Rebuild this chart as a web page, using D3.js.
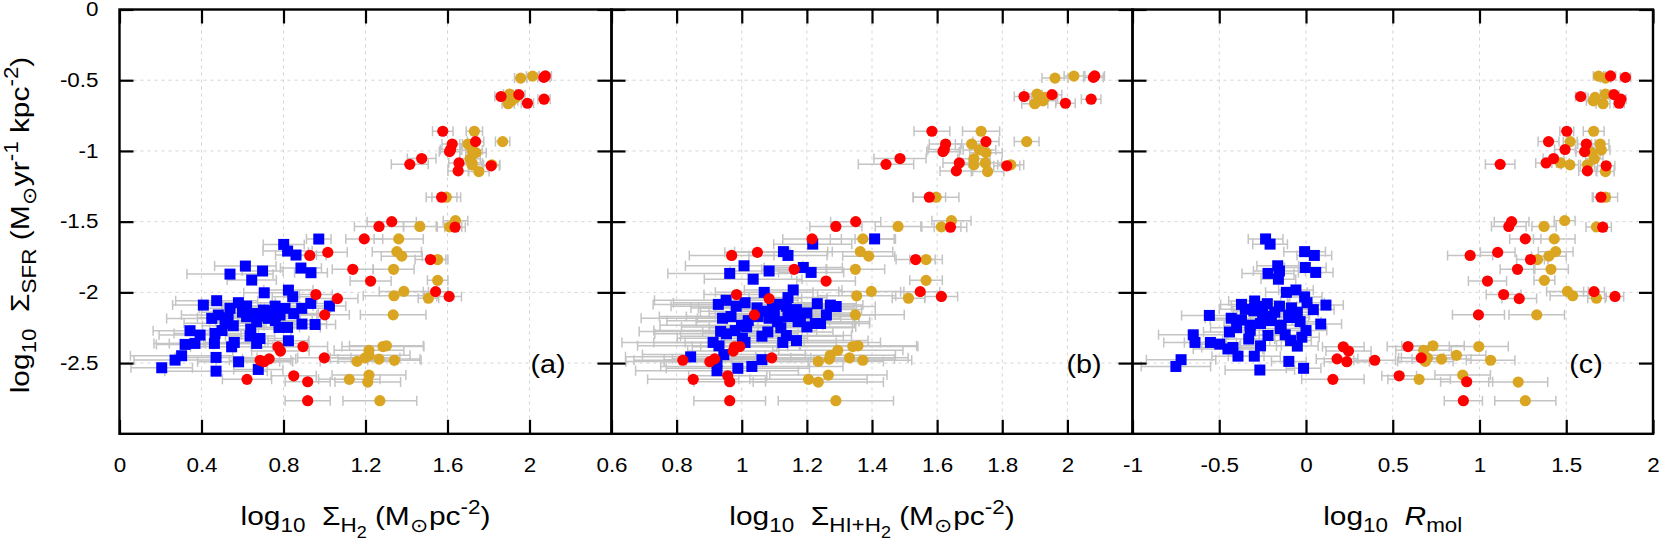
<!DOCTYPE html>
<html>
<head>
<meta charset="utf-8">
<script src="https://cdn.jsdelivr.net/npm/d3@7"></script>
<style>
body {margin:0; background:#fff;}
svg text {font-family:"Liberation Sans", Arial, sans-serif; fill:#000;}
</style>
</head>
<body>
<div id="chart"></div>
<script>

//tick values
var yTicks  = [-2.5, -2, -1.5, -1, -0.5, 0]
var xTicksA = [0, 0.4, 0.8, 1.2, 1.6, 2]
var xTicksB = [0.6, 0.8, 1, 1.2, 1.4, 1.6, 1.8, 2]
var xTicksC = [-1, -0.5, 0, 0.5, 1, 1.5, 2]

//red circles, same galaxies in all three panels
var redY = [-0.47,-0.48,-0.615,-0.602,-0.663,-0.634,-0.861,-0.951,
            -1.005,-0.934,-1.054,-1.095,-1.085,-1.141,-1.105,-1.327,
            -1.5,-1.534,-1.539,-1.622,-1.739,-1.717,-1.768,-1.837,
            -1.92,-1.995,-2.029,-2.015,-2.044,-2.159,-2.385,-2.415,
            -2.383,-2.463,-2.48,-2.49,-2.47,-2.615,-2.59,-2.632,
            -2.766,-0.99]
var redXa = [2.077,2.07,1.861,1.948,1.99,2.071,1.577,1.623,
             1.61,1.737,1.474,1.416,1.656,1.652,1.813,1.571,
             1.328,1.266,1.637,1.194,0.928,1.016,1.517,1.138,
             1.225,1.542,1.608,0.958,1.063,1.001,0.773,0.785,
             0.895,0.999,0.686,0.705,0.73,0.622,0.85,0.918,
             0.918,1.615]
var redEa = [0.03,0.03,0.03,0.03,0.03,0.03,0.05,0.05,
             0.05,0.04,0.07,0.09,0.05,0.05,0.04,0.075,
             0.12,0.12,0.05,0.09,0.08,0.095,0.075,0.1,
             0.1,0.06,0.06,0.08,0.1,0.12,0.13,0.14,
             0.12,0.13,0.15,0.14,0.13,0.12,0.11,0.11,
             0.11,0.05]
var redXb = [2.084,2.08,1.867,1.953,1.994,2.073,1.584,1.626,
             1.618,1.75,1.486,1.443,1.668,1.659,1.814,1.576,
             1.35,1.289,1.641,1.216,0.969,1.048,1.534,1.161,
             1.259,1.548,1.613,0.984,1.084,1.039,0.978,0.974,
             0.994,1.092,0.819,0.902,0.917,0.851,0.957,0.963,
             0.963,1.622]
var redEb = [0.03,0.03,0.03,0.03,0.03,0.03,0.055,0.05,
             0.05,0.04,0.08,0.085,0.05,0.05,0.04,0.05,
             0.077,0.08,0.05,0.09,0.13,0.1,0.06,0.1,
             0.09,0.06,0.05,0.1,0.1,0.12,0.13,0.14,
             0.12,0.12,0.15,0.14,0.13,0.14,0.12,0.11,
             0.11,0.05]
var redXc = [1.755,1.841,1.583,1.775,1.805,1.815,1.503,1.616,
             1.606,1.398,1.427,1.119,1.384,1.622,1.73,1.7,
             1.185,1.169,1.71,1.264,0.946,1.105,1.294,1.219,
             1.046,1.66,1.781,1.139,1.229,0.994,0.215,0.245,
             0.588,0.664,0.396,0.235,0.179,0.155,0.537,0.926,
             0.907,1.493]
var redEc = [0.03,0.03,0.03,0.03,0.03,0.03,0.04,0.05,
             0.05,0.06,0.06,0.085,0.06,0.05,0.05,0.05,
             0.1,0.1,0.05,0.09,0.13,0.1,0.08,0.1,
             0.11,0.06,0.05,0.1,0.1,0.15,0.12,0.13,
             0.12,0.13,0.12,0.13,0.12,0.18,0.1,0.15,
             0.11,0.06]

//gold circles
var goldY = [-0.485,-0.471,-0.598,-0.646,-0.666,-0.622,-0.861,-0.934,
             -0.951,-1.012,-0.993,-1.056,-1.085,-1.098,-1.146,-1.098,
             -1.327,-1.493,-1.537,-1.534,-1.622,-1.712,-1.744,-1.768,
             -1.837,-1.915,-1.993,-2.024,-2.041,-2.159,-2.383,-2.378,
             -2.41,-2.445,-2.488,-2.472,-2.48,-2.463,-2.615,-2.585,
             -2.634,-2.766]
var goldXa = [1.957,2.015,1.903,1.913,1.896,1.932,1.731,1.869,
              1.70,1.739,1.72,1.71,1.72,1.72,1.753,1.816,
              1.594,1.639,1.61,1.465,1.362,1.353,1.377,1.552,
              1.337,1.552,1.387,1.339,1.507,1.335,1.285,1.302,
              1.217,1.217,1.159,1.266,1.341,1.198,1.121,1.217,
              1.211,1.27]
var goldEa = [0.03,0.03,0.03,0.03,0.03,0.03,0.04,0.035,
              0.04,0.05,0.05,0.05,0.05,0.05,0.05,0.04,
              0.07,0.06,0.06,0.08,0.12,0.12,0.1,0.05,
              0.1,0.05,0.12,0.15,0.05,0.16,0.2,0.18,
              0.17,0.2,0.18,0.2,0.13,0.17,0.15,0.18,
              0.16,0.18]
var goldXb = [1.962,2.02,1.907,1.925,1.9,1.93,1.735,1.875,
              1.706,1.75,1.73,1.713,1.748,1.713,1.755,1.826,
              1.597,1.644,1.613,1.48,1.372,1.364,1.39,1.566,
              1.349,1.566,1.398,1.353,1.512,1.349,1.341,1.357,
              1.295,1.272,1.235,1.269,1.372,1.331,1.205,1.266,
              1.235,1.289]
var goldEb = [0.04,0.03,0.04,0.04,0.04,0.04,0.057,0.038,
              0.05,0.05,0.05,0.05,0.05,0.05,0.05,0.04,
              0.07,0.06,0.06,0.07,0.1,0.1,0.08,0.05,
              0.09,0.05,0.1,0.12,0.05,0.15,0.2,0.18,
              0.2,0.2,0.2,0.2,0.15,0.18,0.18,0.18,
              0.2,0.177]
var goldXc = [1.726,1.686,1.726,1.656,1.712,1.666,1.658,1.523,
              1.696,1.646,1.702,1.662,1.467,1.521,1.726,1.622,
              1.726,1.491,1.674,1.372,1.431,1.439,1.4,1.334,
              1.412,1.374,1.507,1.537,1.674,1.33,0.996,0.732,
              0.678,0.867,0.688,0.781,1.064,0.70,0.652,0.903,
              1.223,1.264]
var goldEc = [0.03,0.03,0.03,0.04,0.04,0.04,0.06,0.04,
              0.05,0.05,0.05,0.05,0.05,0.05,0.05,0.04,
              0.07,0.06,0.06,0.07,0.12,0.1,0.1,0.06,
              0.1,0.06,0.12,0.13,0.05,0.16,0.17,0.18,
              0.16,0.17,0.16,0.17,0.14,0.15,0.18,0.16,
              0.17,0.176]

//blue squares, read panel by panel (too crowded to match up)
var blueXa = [0.972,0.801,0.820,0.861,0.614,0.539,0.645,0.698,
              0.885,0.934,0.706,0.824,0.845,0.409,0.474,0.539,
              0.580,0.620,0.653,0.702,0.759,0.807,0.889,0.933,
              1.024,0.450,0.482,0.515,0.555,0.620,0.669,0.726,
              0.783,0.778,0.820,0.890,0.954,0.344,0.393,0.368,
              0.320,0.466,0.463,0.560,0.547,0.637,0.685,0.669,
              0.824,0.303,0.271,0.206,0.471,0.471,0.581,0.677,
              0.74,0.70,0.60,0.53,0.85,0.76,0.64,0.50]
var blueYa = [-1.623,-1.661,-1.708,-1.736,-1.814,-1.871,-1.913,-1.849,
              -1.828,-1.861,-2.003,-1.984,-2.031,-2.090,-2.059,-2.113,
              -2.073,-2.097,-2.149,-2.125,-2.097,-2.113,-2.113,-2.078,
              -2.097,-2.184,-2.160,-2.219,-2.236,-2.172,-2.208,-2.184,
              -2.160,-2.248,-2.248,-2.224,-2.227,-2.271,-2.302,-2.361,
              -2.368,-2.290,-2.361,-2.354,-2.385,-2.309,-2.326,-2.361,
              -2.342,-2.448,-2.479,-2.533,-2.460,-2.557,-2.491,-2.545,
              -2.13,-2.17,-2.14,-2.18,-2.15,-2.20,-2.26,-2.27]
var blueEa = [0.06,0.10,0.12,0.10,0.15,0.21,0.12,0.10,
              0.10,0.08,0.10,0.12,0.10,0.15,0.20,0.15,
              0.18,0.12,0.15,0.20,0.12,0.10,0.14,0.10,
              0.08,0.22,0.18,0.20,0.15,0.12,0.20,0.15,
              0.18,0.10,0.16,0.12,0.10,0.18,0.20,0.20,
              0.14,0.20,0.22,0.15,0.20,0.12,0.15,0.25,
              0.10,0.25,0.20,0.15,0.20,0.25,0.20,0.12,
              0.15,0.18,0.20,0.15,0.12,0.18,0.20,0.16]

var blueXb = [1.408,1.218,1.128,1.142,1.007,0.963,1.035,1.084,
              1.189,1.213,1.069,1.158,1.142,0.928,0.952,0.983,
              1.010,1.047,1.073,1.094,1.115,1.137,1.168,1.200,
              1.232,1.272,0.941,0.967,0.999,1.015,1.084,1.110,
              1.142,1.173,1.200,1.226,1.242,0.935,0.953,0.912,
              0.930,1.002,1.010,1.062,1.126,1.137,1.168,0.843,
              0.924,0.945,0.924,0.988,1.031,1.062,1.10,1.05,
              1.16,1.02,1.12,0.98,1.08,1.18,1.26,1.29]
var blueYb = [-1.622,-1.659,-1.712,-1.739,-1.812,-1.866,-1.907,-1.849,
              -1.824,-1.859,-2.000,-1.983,-2.037,-2.085,-2.056,-2.098,
              -2.073,-2.110,-2.134,-2.110,-2.085,-2.098,-2.122,-2.146,
              -2.080,-2.090,-2.183,-2.171,-2.232,-2.244,-2.183,-2.207,
              -2.171,-2.207,-2.244,-2.220,-2.220,-2.276,-2.293,-2.354,
              -2.378,-2.324,-2.354,-2.310,-2.354,-2.305,-2.341,-2.456,
              -2.488,-2.440,-2.554,-2.537,-2.524,-2.476,-2.15,-2.17,
              -2.16,-2.20,-2.25,-2.27,-2.28,-2.19,-2.16,-2.10]
var blueEb = [0.06,0.12,0.15,0.12,0.18,0.19,0.15,0.12,
              0.12,0.10,0.15,0.15,0.12,0.20,0.22,0.20,
              0.22,0.18,0.20,0.25,0.15,0.15,0.20,0.15,
              0.12,0.10,0.25,0.22,0.25,0.20,0.22,0.25,
              0.20,0.22,0.15,0.12,0.15,0.25,0.22,0.28,
              0.25,0.20,0.28,0.25,0.30,0.20,0.22,0.20,
              0.28,0.25,0.25,0.22,0.28,0.30,0.20,0.22,
              0.18,0.25,0.22,0.25,0.20,0.18,0.15,0.12]

var blueXc = [-0.233,-0.207,-0.008,0.048,-0.163,-0.219,-0.159,-0.004,
              0.056,-0.153,-0.113,-0.058,-0.008,-0.557,-0.372,-0.296,
              -0.223,-0.153,-0.084,0.006,0.042,0.115,-0.431,-0.372,
              -0.322,-0.262,-0.203,-0.143,-0.084,-0.034,0.085,-0.650,
              -0.640,-0.551,-0.497,-0.441,-0.421,-0.392,-0.298,-0.262,
              -0.219,-0.322,-0.149,-0.089,-0.024,-0.720,-0.750,-0.099,
              -0.014,-0.266,-0.30,-0.25,-0.18,-0.10,-0.35,-0.05,
              -0.40,-0.20,-0.12,0.00,-0.33,-0.45,-0.05,-0.28]
var blueYc = [-1.622,-1.659,-1.712,-1.739,-1.812,-1.866,-1.907,-1.824,
              -1.859,-1.849,-2.000,-1.983,-2.032,-2.163,-2.085,-2.061,
              -2.080,-2.098,-2.110,-2.073,-2.122,-2.090,-2.183,-2.195,
              -2.232,-2.220,-2.171,-2.232,-2.178,-2.207,-2.224,-2.300,
              -2.354,-2.354,-2.366,-2.280,-2.390,-2.451,-2.451,-2.378,
              -2.305,-2.268,-2.256,-2.341,-2.317,-2.476,-2.524,-2.488,
              -2.537,-2.549,-2.13,-2.15,-2.14,-2.16,-2.12,-2.14,
              -2.25,-2.20,-2.30,-2.27,-2.33,-2.40,-2.38,-2.10]
var blueEc = [0.10,0.10,0.12,0.10,0.12,0.15,0.10,0.12,
              0.10,0.15,0.12,0.10,0.10,0.16,0.12,0.15,
              0.12,0.10,0.12,0.10,0.12,0.10,0.15,0.18,
              0.15,0.12,0.12,0.15,0.10,0.12,0.12,0.20,
              0.18,0.15,0.12,0.15,0.18,0.15,0.15,0.12,
              0.12,0.15,0.12,0.12,0.10,0.20,0.20,0.10,
              0.10,0.20,0.12,0.12,0.15,0.12,0.15,0.12,
              0.15,0.12,0.15,0.12,0.15,0.20,0.12,0.15]

//axis titles as [text, level, italic]  level: 0 normal, -1 sub, -2 subsub, 1 sup
var titleA = [["log",0],["10",-1],["\u00a0\u00a0\u03a3",0],["H",-1],["2",-2],["\u00a0(M",0],["\u2299",-1],["pc",0],["-2",1],[")",0]]
var titleB = [["log",0],["10",-1],["\u00a0\u00a0\u03a3",0],["HI+H",-1],["2",-2],["\u00a0(M",0],["\u2299",-1],["pc",0],["-2",1],[")",0]]
var titleC = [["log",0],["10",-1],["\u00a0\u00a0",0],["R",0,true],["mol",-1]]
var titleY = [["log",0],["10",-1],["\u00a0\u00a0\u03a3",0],["SFR",-1],["\u00a0(M",0],["\u2299",-1],["yr",0],["-1",1],["\u00a0kpc",0],["-2",1],[")",0]]

//dimensions
var screen = {width: 1661, height: 543}
var frameTop = 9.5, frameBottom = 433.8
var tickLen = 14
var stretch = 1.15   //the original lettering runs wider than Liberation Sans

var yScale = d3.scaleLinear()
                .domain([-3, 0])
                .range([frameBottom, frameTop])

var panels = [
    {left: 119.5, right: 611.5, dom: [0, 2.4], ticks: xTicksA, tag: "(a)", tagX: 548, title: titleA,
     gold: [goldXa, goldY, goldEa], blue: [blueXa, blueYa, blueEa], red: [redXa, redY, redEa]},
    {left: 611.5, right: 1132.5, dom: [0.6, 2.2], ticks: xTicksB, tag: "(b)", tagX: 1084, title: titleB,
     gold: [goldXb, goldY, goldEb], blue: [blueXb, blueYb, blueEb], red: [redXb, redY, redEb]},
    {left: 1132.5, right: 1653, dom: [-1, 2], ticks: xTicksC, tag: "(c)", tagX: 1586, title: titleC,
     gold: [goldXc, goldY, goldEc], blue: [blueXc, blueYc, blueEc], red: [redXc, redY, redEc]}
]

var svg = d3.select("#chart")
    .append("svg")
    .attr("width", screen.width)
    .attr("height", screen.height)

svg.append("rect")
    .attr("width", screen.width)
    .attr("height", screen.height)
    .attr("fill", "#fff")

//writes gnuplot style enhanced text with subs and sups
var richText = function(textSel, parts, size)
{
    var cur = 0
    parts.forEach(function(p)
    {
        var lvl = p[1]
        var fs = lvl == 0 ? size : (lvl == -2 ? size * 0.6 : size * 0.75)
        var off = lvl == 0 ? 0 : (lvl == -1 ? size * 0.28 : (lvl == -2 ? size * 0.5 : -size * 0.42))
        var t = textSel.append("tspan")
            .attr("dy", off - cur)
            .style("font-size", fs + "px")
            .text(p[0])
        if (p[2]) { t.style("font-style", "italic") }
        cur = off
    })
}

//turns the three arrays into point objects
var zipPoints = function(arr)
{
    return arr[0].map(function(x, i)
    {
        return {x: x, y: arr[1][i], e: arr[2][i]}
    })
}

var drawPanel = function(p, idx)
{
    var xScale = d3.scaleLinear()
                    .domain(p.dom)
                    .range([p.left, p.right])

    var g = svg.append("g")

    g.append("clipPath")
        .attr("id", "clip" + idx)
        .append("rect")
        .attr("x", p.left)
        .attr("y", frameTop)
        .attr("width", p.right - p.left)
        .attr("height", frameBottom - frameTop)

    //dashed grid
    g.selectAll(".gx")
        .data(p.ticks)
        .enter()
        .append("line")
        .attr("x1", function(d) { return xScale(d) })
        .attr("x2", function(d) { return xScale(d) })
        .attr("y1", frameTop)
        .attr("y2", frameBottom)
        .attr("stroke", "#d4d4d4")
        .attr("stroke-width", 1)
        .attr("stroke-dasharray", "3,4")

    g.selectAll(".gy")
        .data(yTicks)
        .enter()
        .append("line")
        .attr("x1", p.left)
        .attr("x2", p.right)
        .attr("y1", function(d) { return yScale(d) })
        .attr("y2", function(d) { return yScale(d) })
        .attr("stroke", "#d4d4d4")
        .attr("stroke-width", 1)
        .attr("stroke-dasharray", "3,4")

    var gold = zipPoints(p.gold)
    var blue = zipPoints(p.blue)
    var red = zipPoints(p.red)
    var all = gold.concat(blue).concat(red)

    //error bars first, gray with little caps
    var bars = g.append("g")
        .attr("clip-path", "url(#clip" + idx + ")")
        .attr("stroke", "#c4c4c4")
        .attr("stroke-width", 1.5)
        .attr("fill", "none")

    bars.selectAll("path")
        .data(all)
        .enter()
        .append("path")
        .attr("d", function(d)
        {
            var x0 = xScale(d.x - d.e), x1 = xScale(d.x + d.e), y = yScale(d.y)
            return "M" + x0 + "," + y + "H" + x1 +
                   "M" + x0 + "," + (y - 5) + "V" + (y + 5) +
                   "M" + x1 + "," + (y - 5) + "V" + (y + 5)
        })

    var marks = g.append("g").attr("clip-path", "url(#clip" + idx + ")")

    marks.selectAll(".gold")
        .data(gold)
        .enter()
        .append("circle")
        .attr("cx", function(d) { return xScale(d.x) })
        .attr("cy", function(d) { return yScale(d.y) })
        .attr("r", 5.6)
        .attr("fill", "#daa520")

    marks.selectAll(".blue")
        .data(blue)
        .enter()
        .append("rect")
        .attr("x", function(d) { return xScale(d.x) - 5.5 })
        .attr("y", function(d) { return yScale(d.y) - 5.5 })
        .attr("width", 11)
        .attr("height", 11)
        .attr("fill", "#0000ff")

    marks.selectAll(".red")
        .data(red)
        .enter()
        .append("circle")
        .attr("cx", function(d) { return xScale(d.x) })
        .attr("cy", function(d) { return yScale(d.y) })
        .attr("r", 5.6)
        .attr("fill", "#ff0000")

    //ticks pointing inward on all four sides
    var fmt = function(d) { return String(d) }

    var bottomAxis = g.append("g")
        .attr("transform", "translate(0," + frameBottom + ")")
        .call(d3.axisBottom(xScale).tickValues(p.ticks).tickSize(-tickLen).tickPadding(24).tickFormat(fmt))
    var topAxis = g.append("g")
        .attr("transform", "translate(0," + frameTop + ")")
        .call(d3.axisTop(xScale).tickValues(p.ticks).tickSize(-tickLen).tickFormat(""))
    var leftAxis = g.append("g")
        .attr("transform", "translate(" + p.left + ",0)")
        .call(d3.axisLeft(yScale).tickValues(yTicks).tickSize(-tickLen).tickPadding(21)
              .tickFormat(idx == 0 ? fmt : ""))
    var rightAxis = g.append("g")
        .attr("transform", "translate(" + p.right + ",0)")
        .call(d3.axisRight(yScale).tickValues(yTicks).tickSize(-tickLen).tickFormat(""))

    ;[bottomAxis, topAxis, leftAxis, rightAxis].forEach(function(a)
    {
        a.select(".domain").remove()
        a.selectAll("line").attr("stroke", "#000").attr("stroke-width", 2.2)
        a.selectAll("text")
            .style("font-size", "19.5px")
            .style("font-family", "'Liberation Sans', Arial, sans-serif")
            .attr("fill", "#000")
            .attr("transform", "scale(" + stretch + ",1)")
    })
    //keep the right edge of the y labels where it was before stretching
    leftAxis.selectAll("text").attr("x", -21 / stretch)

    //frame
    g.append("rect")
        .attr("x", p.left)
        .attr("y", frameTop)
        .attr("width", p.right - p.left)
        .attr("height", frameBottom - frameTop)
        .attr("fill", "none")
        .attr("stroke", "#000")
        .attr("stroke-width", 2.4)

    //panel letter
    g.append("text")
        .attr("transform", "translate(" + p.tagX + ",373) scale(" + stretch + ",1)")
        .attr("text-anchor", "middle")
        .style("font-size", "25px")
        .text(p.tag)

    //x title
    var xt = g.append("text")
        .attr("transform", "translate(" + ((p.left + p.right) / 2) + ",525) scale(" + stretch + ",1)")
        .attr("text-anchor", "middle")
    richText(xt, p.title, 26)
}

panels.forEach(drawPanel)

//y title, rotated
var yt = svg.append("text")
    .attr("transform", "translate(29,225) rotate(-90) scale(" + stretch + ",1)")
    .attr("text-anchor", "middle")
richText(yt, titleY, 26)

</script>
</body>
</html>
